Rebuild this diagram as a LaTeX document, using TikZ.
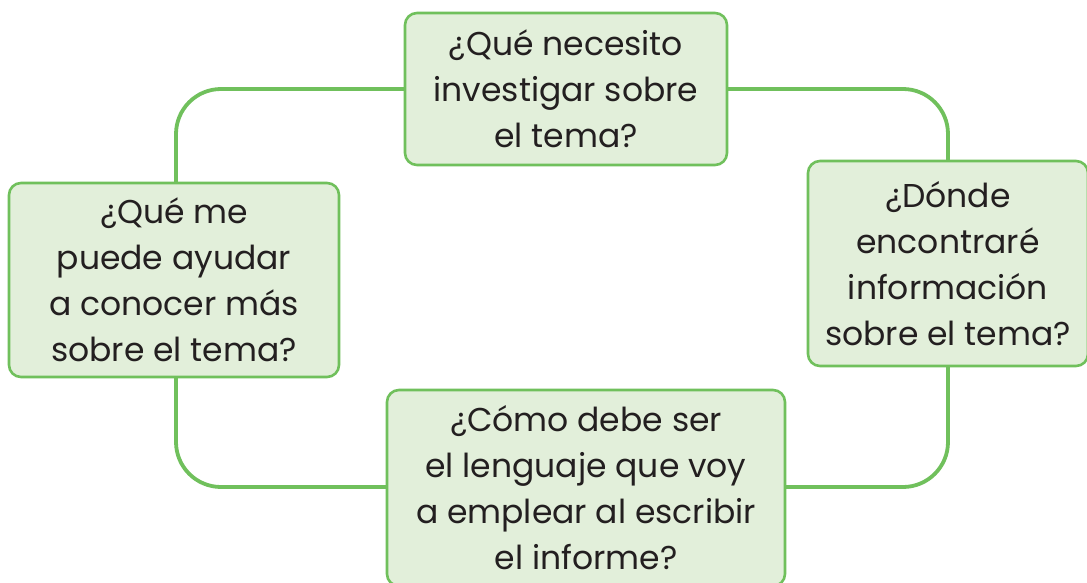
\documentclass[tikz,border=0pt]{standalone}
\usepackage{fontspec}
\setmainfont{Poppins}
\definecolor{boxgreen}{RGB}{112,192,92}
\definecolor{boxfill}{RGB}{226,239,218}
\definecolor{txt}{RGB}{35,31,32}
\tikzset{
  qbox/.style={draw=boxgreen, line width=2.6pt, fill=boxfill, rounded corners=12pt,
    inner sep=0pt, align=center, text=txt,
    font=\fontsize{33}{46}\selectfont},
  link/.style={draw=boxgreen, line width=3.8pt, rounded corners=45pt}
}
\begin{document}
\begin{tikzpicture}[x=1pt,y=-1pt]
\useasboundingbox (0,0) rectangle (1087,583);
\fill[white] (0,0) rectangle (1087,583);
\coordinate (tl) at (176,89);
\coordinate (tr) at (948,89);
\coordinate (br) at (948,487);
\coordinate (bl) at (176,487);
\draw[link] (566,89) -- (tr) -- (948,263);
\draw[link] (948,263) -- (br) -- (586,487);
\draw[link] (586,487) -- (bl) -- (176,280);
\draw[link] (176,280) -- (tl) -- (566,89);
\node[qbox, minimum width=322pt, minimum height=152pt] (top) at (566,89)
  {¿Qué necesito\\investigar sobre\\el tema?};
\node[qbox, minimum width=330pt, minimum height=194pt] (left) at (174,280)
  {¿Qué me\\puede ayudar\\a conocer más\\sobre el tema?};
\node[qbox, minimum width=280pt, minimum height=205pt] (right) at (948,263.5)
  {¿Dónde\\encontraré\\información\\sobre el tema?};
\node[qbox, minimum width=398pt, minimum height=196pt] (bot) at (586,488)
  {¿Cómo debe ser\\el lenguaje que voy\\a emplear al escribir\\el informe?};
\end{tikzpicture}
\end{document}
